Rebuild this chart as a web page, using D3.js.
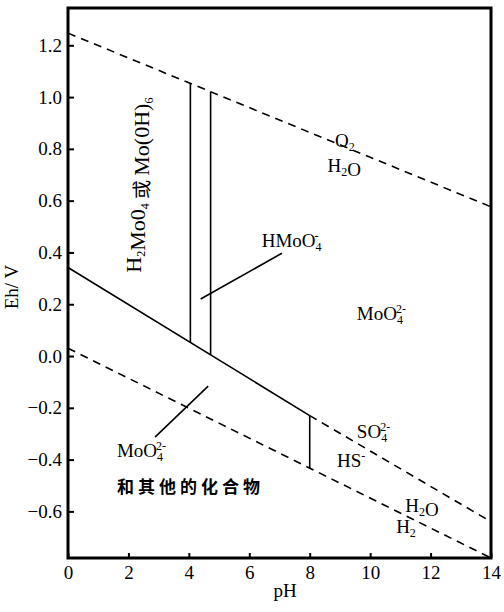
<!DOCTYPE html>
<html>
<head>
<meta charset="utf-8">
<script src="https://cdn.jsdelivr.net/npm/d3@7"></script>
<style>
  body { margin: 0; background: #fff; }
  svg { display: block; }
</style>
</head>
<body>
<svg></svg>
<script>
const width = 504;
const height = 612;
const margin = {left: 68, right: 13, top: 8, bottom: 54};

// tick labels
const xTicks = [0, 2, 4, 6, 8, 10, 12, 14];
const yTicks = [-0.6, -0.4, -0.2, 0.0, 0.2, 0.4, 0.6, 0.8, 1.0, 1.2];

// lines, [pH, Eh]
const o2Line = [[0, 1.247], [14, 0.576]];          // O2 / H2O
const h2Line = [[0, 0.03], [14, -0.78]];           // H2O / H2
const sulfurLine = [[8, -0.23], [14, -0.64]];      // SO4 / HS
const solidLines = [
  [[0, 0.342], [8, -0.23]],
  [[8, -0.23], [8, -0.433]],
  [[4.05, 0.052], [4.05, 1.053]],
  [[4.72, 0.004], [4.72, 1.021]]
];
const leaders = [
  [[4.39, 0.22], [7.08, 0.397]],
  [[2.88, -0.313], [4.64, -0.116]]
];

// labels: [pH, Eh, parts]  parts: [text, kind]
const labels = [
  [8.84, 0.808, [["O", "n"], ["2", "sub"]]],
  [8.59, 0.712, [["H", "n"], ["2", "sub"], ["O", "n"]]],
  [6.41, 0.421, [["HMoO", "n"], ["4", "sub"], ["-", "sup"]]],
  [9.56, 0.139, [["MoO", "n"], ["4", "sub"], ["2-", "sup"]]],
  [9.56, -0.317, [["SO", "n"], ["4", "sub"], ["2-", "sup"]]],
  [8.90, -0.427, [["HS", "n"], ["-", "sup0"]]],
  [11.16, -0.601, [["H", "n"], ["2", "sub"], ["O", "n"]]],
  [10.86, -0.683, [["H", "n"], ["2", "sub"]]],
  [1.62, -0.389, [["MoO", "n"], ["4", "sub"], ["2-", "sup"]]]
];
const cjkLabel = [1.62, -0.529, "和其他的化合物"];
const rotLabel = [2.42, 0.66, [["H", "n"], ["2", "sub"], ["Mo0", "n"], ["4", "sub"], [" 或 ", "cjk"], ["Mo(0H)", "n"], ["6", "sub"]]];

let svg = d3.select("svg")
    .attr("width", width)
    .attr("height", height);

let scaleX = d3.scaleLinear()
    .domain([0, 14])
    .range([margin.left, width - margin.right]);

let scaleY = d3.scaleLinear()
    .domain([-0.78, 1.344])
    .range([height - margin.bottom, margin.top]);

const serif = "Liberation Serif";

// axes, ticks pointing inward
let axisX = d3.axisBottom(scaleX)
    .tickValues(xTicks)
    .tickSizeInner(-5)
    .tickSizeOuter(0)
    .tickPadding(8)
    .tickFormat(d3.format("d"));

let axisY = d3.axisLeft(scaleY)
    .tickValues(yTicks)
    .tickSizeInner(-6)
    .tickSizeOuter(0)
    .tickPadding(6)
    .tickFormat(d3.format(".1f"));

let gx = svg.append("g")
    .attr("transform", `translate(0, ${height - margin.bottom})`)
    .call(axisX);
let gy = svg.append("g")
    .attr("transform", `translate(${margin.left}, 0)`)
    .call(axisY);

[gx, gy].forEach(g => {
  g.attr("font-family", serif).attr("font-size", 19);
  g.select(".domain").remove();
  g.selectAll("line").attr("stroke", "#000").attr("stroke-width", 2);
  g.selectAll("text").attr("fill", "#000");
});

// frame
svg.append("rect")
    .attr("x", scaleX(0))
    .attr("y", scaleY(1.344))
    .attr("width", scaleX(14) - scaleX(0))
    .attr("height", scaleY(-0.78) - scaleY(1.344))
    .attr("fill", "none")
    .attr("stroke", "#000")
    .attr("stroke-width", 3);

const line = d3.line()
    .x(d => scaleX(d[0]))
    .y(d => scaleY(d[1]));

// dashed boundaries
[o2Line, h2Line, sulfurLine].forEach(l => {
  svg.append("path")
    .datum(l)
    .attr("d", line)
    .attr("fill", "none")
    .attr("stroke", "#000")
    .attr("stroke-width", 1.6)
    .attr("stroke-dasharray", "8,6");
});

// solid boundaries and leader lines
solidLines.concat(leaders).forEach(l => {
  svg.append("path")
    .datum(l)
    .attr("d", line)
    .attr("fill", "none")
    .attr("stroke", "#000")
    .attr("stroke-width", 1.6);
});

// chemical formula labels
function addParts(text, parts) {
  parts.forEach(p => {
    let t = text.append("tspan").text(p[0]);
    if (p[1] == "sub") {
      t.attr("font-size", 12).attr("dy", 4);
      text.append("tspan").text("").attr("dy", -4);
    } else if (p[1] == "sup") {
      // superscript stacked over the subscript
      t.attr("font-size", 12).attr("dx", -7).attr("dy", -11);
      text.append("tspan").text("").attr("dy", 7);
    } else if (p[1] == "sup0") {
      t.attr("font-size", 12).attr("dy", -7);
      text.append("tspan").text("").attr("dy", 7);
    } else if (p[1] == "cjk") {
      t.attr("font-family", "Noto Sans CJK SC").attr("font-size", 19);
    }
  });
}

labels.forEach(l => {
  let t = svg.append("text")
    .attr("x", scaleX(l[0]))
    .attr("y", scaleY(l[1]))
    .attr("font-family", serif)
    .attr("font-size", 19)
    .attr("fill", "#000");
  addParts(t, l[2]);
});

svg.append("text")
    .attr("x", scaleX(cjkLabel[0]))
    .attr("y", scaleY(cjkLabel[1]))
    .attr("font-family", "Noto Sans CJK SC")
    .attr("font-size", 17)
    .attr("font-weight", "bold")
    .attr("letter-spacing", 4)
    .attr("fill", "#000")
    .text(cjkLabel[2]);

let rot = svg.append("text")
    .attr("transform", `translate(${scaleX(rotLabel[0])}, ${scaleY(rotLabel[1])}) rotate(-90)`)
    .attr("text-anchor", "middle")
    .attr("font-family", serif)
    .attr("font-size", 22)
    .attr("fill", "#000");
addParts(rot, rotLabel[2]);

// axis titles
svg.append("text")
    .attr("transform", `translate(18, 287) rotate(-90)`)
    .attr("text-anchor", "middle")
    .attr("font-family", serif)
    .attr("font-size", 19)
    .text("Eh/ V");

svg.append("text")
    .attr("x", 285)
    .attr("y", 597)
    .attr("text-anchor", "middle")
    .attr("font-family", serif)
    .attr("font-size", 19)
    .text("pH");
</script>
</body>
</html>
